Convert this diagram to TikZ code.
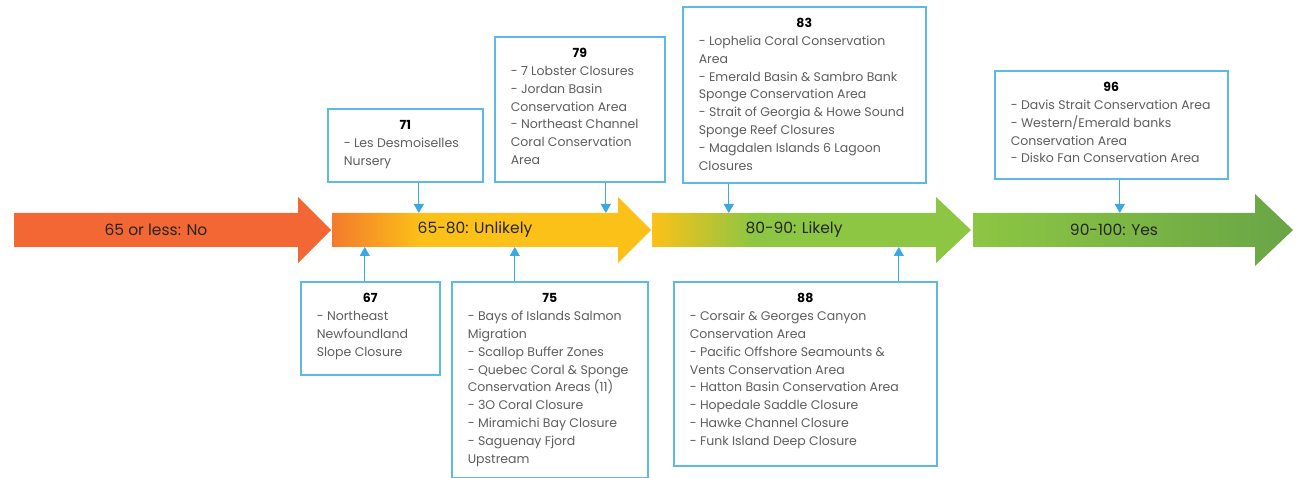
\documentclass[tikz,border=0pt]{standalone}
\usepackage{fontspec}
\setmainfont{Poppins}
\usepackage{tikz}
\usetikzlibrary{arrows.meta,backgrounds,calc}

\definecolor{bandred}{HTML}{F26734}
\definecolor{bandorange}{HTML}{F37B2C}
\definecolor{bandyellow}{HTML}{FCC118}
\definecolor{bandgreen}{HTML}{8DC643}
\definecolor{banddark}{HTML}{69A546}
\definecolor{boxblue}{HTML}{5CB9E8}
\definecolor{pointerblue}{HTML}{3AA9E1}
\definecolor{listgray}{HTML}{5E5E5E}

\pgfdeclarehorizontalshading{unlikelyfade}{100bp}{color(0bp)=(bandorange); color(25bp)=(bandorange); color(39bp)=(bandyellow); color(100bp)=(bandyellow)}
\pgfdeclarehorizontalshading{likelyfade}{100bp}{color(0bp)=(bandyellow); color(25bp)=(bandyellow); color(41bp)=(bandgreen); color(100bp)=(bandgreen)}
\pgfdeclarehorizontalshading{yesfade}{100bp}{color(0bp)=(bandgreen); color(25bp)=(bandgreen); color(75bp)=(banddark); color(100bp)=(banddark)}

\newcommand{\boxlist}[4]{\begin{minipage}[t][#1][t]{#2}{\centering\color{black}\bfseries\rule{0pt}{21pt}#3\par}\raggedright #4\end{minipage}}

\begin{document}
\begin{tikzpicture}[x=1pt, y=-1pt,
    band/.style={minimum height=34pt, inner sep=0pt, outer sep=0pt, font=\fontsize{15.5}{17}\selectfont, text=black!85},
    info/.style={draw=boxblue, line width=1.6pt, fill=white, inner xsep=16pt, inner ysep=0pt, anchor=north west, font=\fontsize{12.5}{17.8}\selectfont, text=listgray},
    pointer/.style={draw=pointerblue, line width=1.2pt, -{Triangle[width=10pt,length=9pt]}}]
                \useasboundingbox (0,0) rectangle (1298,478);

                \node[band, minimum width=284pt] (no) at (156,230) {65 or less: No};
                \node[band, minimum width=286pt] (unlikely) at (475,230) {65-80: Unlikely};
                \node[band, minimum width=284pt] (likely) at (794,230) {80-90: Likely};
                \node[band, minimum width=282pt] (yes) at (1114,230) {90-100: Yes};

                \begin{scope}[on background layer]
                \fill[bandred] (no.north west) -- (no.north east) -- ++(0,-16) -- ($(no.east)+(33,0)$)
                    -- ($(no.south east)+(0,16)$) -- (no.south east) -- (no.south west) -- cycle;
                \shade[shading=unlikelyfade] (unlikely.north west) -- (unlikely.north east) -- ++(0,-16) -- ($(unlikely.east)+(33,0)$)
                    -- ($(unlikely.south east)+(0,16)$) -- (unlikely.south east) -- (unlikely.south west) -- cycle;
                \shade[shading=likelyfade] (likely.north west) -- (likely.north east) -- ++(0,-16) -- ($(likely.east)+(35,0)$)
                    -- ($(likely.south east)+(0,16)$) -- (likely.south east) -- (likely.south west) -- cycle;
                \shade[shading=yesfade] (yes.north west) -- (yes.north east) -- ++(0,-19) -- ($(yes.east)+(38,0)$)
                    -- ($(yes.south east)+(0,19)$) -- (yes.south east) -- (yes.south west) -- cycle;
                \end{scope}

                \node[info] (box71) at (327,108) {\boxlist{73pt}{123pt}{71}{- Les Desmoiselles\\Nursery}};
                \node[info] (box79) at (494,36) {\boxlist{145pt}{138pt}{79}{- 7 Lobster Closures\\- Jordan Basin\\Conservation Area\\- Northeast Channel\\Coral Conservation\\Area}};
                \node[info] (box83) at (682,6) {\boxlist{176pt}{211pt}{83}{- Lophelia Coral Conservation\\Area\\- Emerald Basin \& Sambro Bank\\Sponge Conservation Area\\- Strait of Georgia \& Howe Sound\\Sponge Reef Closures\\- Magdalen Islands 6 Lagoon\\Closures}};
                \node[info] (box96) at (994,70) {\boxlist{108pt}{201pt}{96}{- Davis Strait Conservation Area\\- Western/Emerald banks\\Conservation Area\\- Disko Fan Conservation Area}};
                \node[info] (box67) at (300,281) {\boxlist{93pt}{107pt}{67}{- Northeast\\Newfoundland\\Slope Closure}};
                \node[info] (box75) at (451,281) {\boxlist{196pt}{164pt}{75}{- Bays of Islands Salmon\\Migration\\- Scallop Buffer Zones\\- Quebec Coral \& Sponge\\Conservation Areas (11)\\- 3O Coral Closure\\- Miramichi Bay Closure\\- Saguenay Fjord\\Upstream}};
                \node[info] (box88) at (673,281) {\boxlist{184pt}{231pt}{88}{- Corsair \& Georges Canyon\\Conservation Area\\- Pacific Offshore Seamounts \&\\Vents Conservation Area\\- Hatton Basin Conservation Area\\- Hopedale Saddle Closure\\- Hawke Channel Closure\\- Funk Island Deep Closure}};

                \draw[pointer] ([xshift=13.5pt]box71.south) -- ([xshift=13.5pt]box71.south |- unlikely.north);
                \draw[pointer] ([xshift=26pt]box79.south) -- ([xshift=26pt]box79.south |- unlikely.north);
                \draw[pointer] ([xshift=-75.5pt]box83.south) -- ([xshift=-75.5pt]box83.south |- likely.north);
                \draw[pointer] ([xshift=8.5pt]box96.south) -- ([xshift=8.5pt]box96.south |- yes.north);
                \draw[pointer] ([xshift=-5.5pt]box67.north) -- ([xshift=-5.5pt]box67.north |- unlikely.south);
                \draw[pointer] ([xshift=-35pt]box75.north) -- ([xshift=-35pt]box75.north |- unlikely.south);
                \draw[pointer] ([xshift=93.5pt]box88.north) -- ([xshift=93.5pt]box88.north |- likely.south);

            \end{tikzpicture}
\end{document}
